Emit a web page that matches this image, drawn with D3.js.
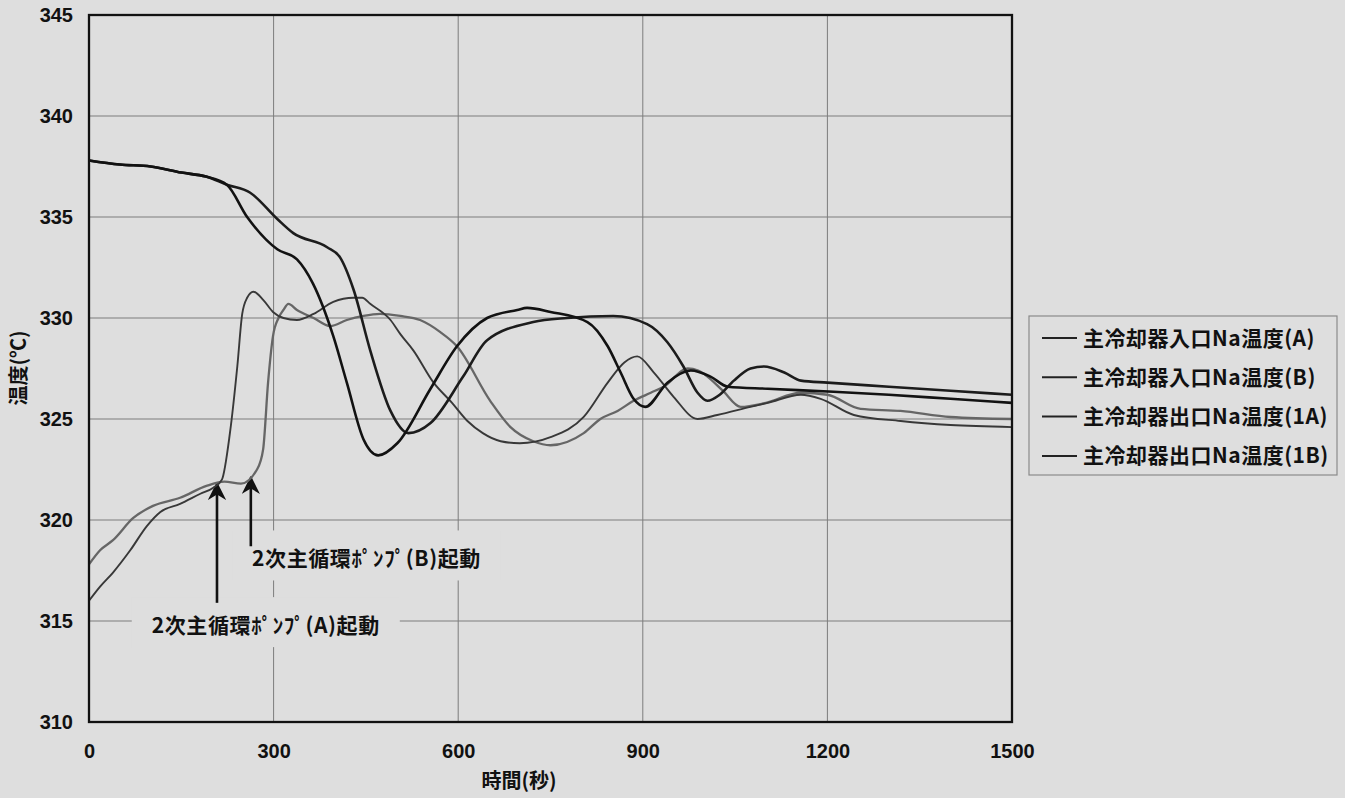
<!DOCTYPE html>
<html>
<head>
<meta charset="utf-8">
<script src="https://cdn.jsdelivr.net/npm/d3@7"></script>
<style>
  body { margin: 0; background: #dedede; }
  svg { display: block; }
</style>
</head>
<body>
<div id="chart"></div>
<script>
// time (s) and temperature (C), one pair of arrays per series
var tInA = [0, 50, 100, 150, 190, 224, 257, 306, 338, 364, 397, 419, 446, 470, 501, 555, 598, 647, 696, 712, 750, 810, 843, 864, 885, 904, 940, 978, 1010, 1038, 1103, 1210, 1300, 1400, 1500];
var vInA = [337.8, 337.6, 337.5, 337.2, 337.0, 336.6, 335.0, 333.4, 332.9, 331.7, 329.1, 326.8, 324.0, 323.2, 323.8, 326.5, 328.6, 330.0, 330.4, 330.5, 330.3, 329.8, 328.6, 327.3, 326.0, 325.6, 326.8, 327.4, 327.1, 326.6, 326.5, 326.35, 326.2, 326.0, 325.8];

var tInB = [0, 50, 100, 150, 190, 224, 262, 306, 332, 387, 408, 430, 457, 490, 519, 555, 608, 647, 722, 777, 852, 907, 940, 966, 989, 1005, 1025, 1048, 1075, 1097, 1130, 1157, 1200, 1300, 1400, 1500];
var vInB = [337.8, 337.6, 337.5, 337.2, 337.0, 336.6, 336.2, 334.9, 334.2, 333.5, 333.0, 331.4, 328.4, 325.4, 324.3, 324.8, 327.1, 328.9, 329.8, 330.0, 330.1, 329.7, 328.8, 327.6, 326.3, 325.9, 326.2, 326.9, 327.5, 327.6, 327.3, 326.9, 326.8, 326.6, 326.4, 326.2];

var tOut1A = [0, 18, 39, 67, 94, 116, 148, 181, 202, 216, 229, 241, 249, 257, 267, 283, 299, 316, 338, 365, 397, 430, 444, 457, 490, 506, 527, 560, 590, 615, 640, 669, 700, 750, 804, 843, 870, 891, 918, 950, 989, 1021, 1075, 1103, 1157, 1189, 1243, 1319, 1400, 1500];
var vOut1A = [316.0, 316.7, 317.4, 318.5, 319.7, 320.4, 320.8, 321.3, 321.6, 322.0, 324.3, 327.6, 330.2, 331.0, 331.3, 330.9, 330.3, 330.0, 329.9, 330.2, 330.8, 331.0, 331.0, 330.7, 329.9, 329.2, 328.4, 326.8, 325.8, 324.9, 324.3, 323.9, 323.8, 324.1, 325.1, 326.8, 327.8, 328.1, 327.3, 326.1, 325.0, 325.2, 325.6, 325.8, 326.2, 326.0, 325.2, 324.9, 324.7, 324.6];

var tOut1B = [0, 18, 39, 72, 104, 148, 192, 220, 247, 273, 283, 291, 299, 308, 316, 324, 338, 365, 392, 419, 446, 473, 506, 538, 571, 598, 652, 685, 722, 750, 804, 831, 859, 885, 913, 934, 973, 990, 1005, 1030, 1059, 1100, 1157, 1200, 1254, 1319, 1400, 1500];
var vOut1B = [317.8, 318.5, 319.0, 320.1, 320.7, 321.1, 321.7, 321.9, 321.8, 322.5, 323.5, 326.8, 329.1, 330.0, 330.4, 330.7, 330.4, 330.0, 329.6, 329.9, 330.1, 330.2, 330.1, 329.9, 329.3, 328.6, 325.9, 324.6, 323.9, 323.7, 324.3, 325.0, 325.4, 325.9, 326.3, 326.6, 327.5, 327.4, 327.1, 326.4, 325.6, 325.8, 326.3, 326.2, 325.5, 325.4, 325.1, 325.0];

var seriesNames = ['主冷却器入口Na温度(A)', '主冷却器入口Na温度(B)', '主冷却器出口Na温度(1A)', '主冷却器出口Na温度(1B)'];
var xTicks = [0, 300, 600, 900, 1200, 1500];
var yTicks = [310, 315, 320, 325, 330, 335, 340, 345];

// pump start markers: time, arrow tip / tail temperature, label position
var pumpLabels = ['2次主循環ﾎﾟﾝﾌﾟ(A)起動', '2次主循環ﾎﾟﾝﾌﾟ(B)起動'];
var pumpTime = [208, 263];
var pumpTip = [321.8, 322.1];
var pumpTail = [315.9, 318.7];
var labelTime = [102, 265];
var labelTemp = [314.4, 317.7];

var series = [
    {name: seriesNames[0], t: tInA, v: vInA, color: '#121212', width: 2.6},
    {name: seriesNames[1], t: tInB, v: vInB, color: '#1c1c1c', width: 2.6},
    {name: seriesNames[2], t: tOut1A, v: vOut1A, color: '#383838', width: 1.9},
    {name: seriesNames[3], t: tOut1B, v: vOut1B, color: '#666666', width: 2.3}
];

var W = 1345, H = 798;
var margin = {left: 89, top: 15, right: 333, bottom: 76};
var w = W - margin.left - margin.right;
var h = H - margin.top - margin.bottom;
var numFont = '"Liberation Sans", Arial, sans-serif';
var jpFont = '"Noto Sans CJK JP", sans-serif';
var bg = '#dedede';

var svg = d3.select('#chart').append('svg')
    .attr('width', W)
    .attr('height', H)
    .style('background', bg);

var g = svg.append('g')
    .attr('transform', 'translate(' + margin.left + ',' + margin.top + ')');

var x = d3.scaleLinear().domain([0, 1500]).range([0, w]);
var y = d3.scaleLinear().domain([310, 345]).range([h, 0]);

// grid
g.append('g')
    .selectAll('line')
    .data(xTicks.slice(1, -1))
    .enter().append('line')
    .attr('x1', x).attr('x2', x)
    .attr('y1', 0).attr('y2', h)
    .attr('stroke', '#7c7c7c').attr('stroke-width', 1);

g.append('g')
    .selectAll('line')
    .data(yTicks.slice(1, -1))
    .enter().append('line')
    .attr('y1', y).attr('y2', y)
    .attr('x1', 0).attr('x2', w)
    .attr('stroke', '#7c7c7c').attr('stroke-width', 1);

// axes (labels only, the frame is drawn separately)
var xAxis = g.append('g')
    .attr('transform', 'translate(0,' + h + ')')
    .call(d3.axisBottom(x).tickValues(xTicks).tickFormat(d3.format('d')).tickSize(0).tickPadding(22));
var yAxis = g.append('g')
    .call(d3.axisLeft(y).tickValues(yTicks).tickFormat(d3.format('d')).tickSize(0).tickPadding(16));

[xAxis, yAxis].forEach(function(a) {
    a.select('.domain').remove();
    a.selectAll('text')
        .attr('font-family', numFont)
        .attr('font-weight', 'bold')
        .attr('font-size', 20)
        .attr('fill', '#111');
});

// annotation labels with background boxes over the grid
pumpLabels.forEach(function(lab, i) {
    var lg = g.append('g');
    var box = lg.append('rect').attr('fill', bg);
    var tx = lg.append('text')
        .attr('x', x(labelTime[i]))
        .attr('y', y(labelTemp[i]))
        .attr('font-family', jpFont)
        .attr('font-weight', 'bold')
        .attr('font-size', 21)
        .attr('letter-spacing', 0.6)
        .attr('fill', '#111')
        .text(lab);
    var bb = tx.node().getBBox();
    box.attr('x', bb.x - 20)
        .attr('y', bb.y - 12)
        .attr('width', bb.width + 40)
        .attr('height', bb.height + 20);
});

// arrows
svg.append('defs').append('marker')
    .attr('id', 'head')
    .attr('viewBox', '0 0 10 10')
    .attr('refX', 9).attr('refY', 5)
    .attr('markerWidth', 7).attr('markerHeight', 7)
    .attr('markerUnits', 'strokeWidth')
    .attr('orient', 'auto')
    .append('path')
    .attr('d', 'M0,0 L10,5 L0,10 L3,5 Z')
    .attr('fill', '#111');

pumpTime.forEach(function(t, i) {
    g.append('line')
        .attr('x1', x(t)).attr('x2', x(t))
        .attr('y1', y(pumpTail[i])).attr('y2', y(pumpTip[i]))
        .attr('stroke', '#111')
        .attr('stroke-width', 2.6)
        .attr('marker-end', 'url(#head)');
});

// series lines
var line = d3.line()
    .x(function(d) { return x(d[0]); })
    .y(function(d) { return y(d[1]); })
    .curve(d3.curveMonotoneX);

g.append('g')
    .selectAll('path')
    .data(series.slice().reverse())
    .enter().append('path')
    .attr('fill', 'none')
    .attr('stroke', function(d) { return d.color; })
    .attr('stroke-width', function(d) { return d.width; })
    .attr('stroke-linejoin', 'round')
    .attr('d', function(d) {
        return line(d.t.map(function(t, k) { return [t, d.v[k]]; }));
    });

// frame
g.append('rect')
    .attr('x', 0).attr('y', 0)
    .attr('width', w).attr('height', h)
    .attr('fill', 'none')
    .attr('stroke', '#111')
    .attr('stroke-width', 2.3);

// axis titles
svg.append('text')
    .attr('x', 519)
    .attr('y', 788)
    .attr('text-anchor', 'middle')
    .attr('font-family', jpFont)
    .attr('font-weight', 'bold')
    .attr('font-size', 20)
    .attr('fill', '#111')
    .text('時間(秒)');

svg.append('text')
    .attr('transform', 'translate(26,368) rotate(-90)')
    .attr('text-anchor', 'middle')
    .attr('font-family', jpFont)
    .attr('font-weight', 'bold')
    .attr('font-size', 20)
    .attr('fill', '#111')
    .text('温度(℃)');

// legend
var legend = svg.append('g').attr('transform', 'translate(1029,316)');
legend.append('rect')
    .attr('width', 308).attr('height', 159)
    .attr('fill', bg)
    .attr('stroke', '#8a8a8a')
    .attr('stroke-width', 1.2);

var items = legend.selectAll('.item')
    .data(series)
    .enter().append('g')
    .attr('class', 'item')
    .attr('transform', function(d, i) { return 'translate(0,' + (22 + i * 39.3) + ')'; });

items.append('line')
    .attr('x1', 13).attr('x2', 48)
    .attr('stroke', '#222')
    .attr('stroke-width', 2);

items.append('text')
    .attr('x', 54)
    .attr('dy', '0.36em')
    .attr('font-family', jpFont)
    .attr('font-weight', 'bold')
    .attr('font-size', 21)
    .attr('letter-spacing', 0.5)
    .attr('fill', '#111')
    .text(function(d) { return d.name; });
</script>
</body>
</html>
